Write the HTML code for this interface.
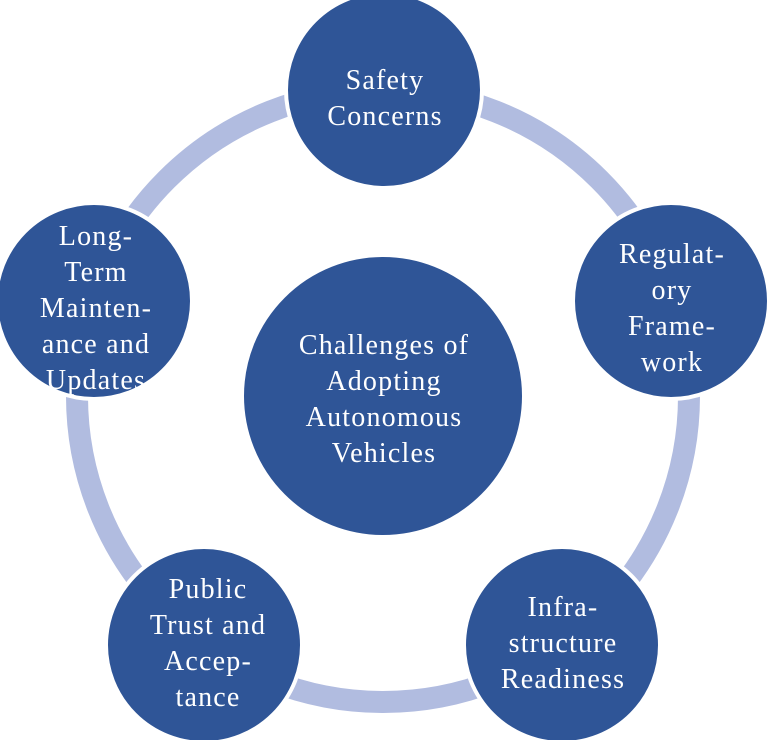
<!DOCTYPE html>
<html><head><style>html,body{margin:0;padding:0;background:#fff;}svg{display:block}</style></head>
<body>
<svg width="768" height="740" viewBox="0 0 768 740" xmlns="http://www.w3.org/2000/svg">
<circle cx="383" cy="396" r="306" fill="none" stroke="#b1bce0" stroke-width="22"/>
<g fill="#2f5597" stroke="#fff" stroke-width="4">
<circle cx="383" cy="396" r="141"/>
<circle cx="384" cy="90" r="98"/>
<circle cx="671" cy="301" r="98"/>
<circle cx="562" cy="645" r="98"/>
<circle cx="204" cy="645" r="98"/>
<circle cx="94" cy="301" r="98"/>
</g>
<g fill="#fff" font-family="'Liberation Serif',serif" font-size="28" letter-spacing="1.2" text-anchor="middle">
<text x="384" y="354">Challenges of</text>
<text x="384" y="390">Adopting</text>
<text x="384" y="426">Autonomous</text>
<text x="384" y="462">Vehicles</text>
<text x="385" y="89">Safety</text>
<text x="385" y="125">Concerns</text>
<text x="672" y="263">Regulat-</text>
<text x="672" y="299">ory</text>
<text x="672" y="335">Frame-</text>
<text x="672" y="371">work</text>
<text x="563" y="616">Infra-</text>
<text x="563" y="652">structure</text>
<text x="563" y="688">Readiness</text>
<text x="208" y="598">Public</text>
<text x="208" y="634">Trust and</text>
<text x="208" y="670">Accep-</text>
<text x="208" y="706">tance</text>
<text x="96" y="245">Long-</text>
<text x="96" y="281">Term</text>
<text x="96" y="317">Mainten-</text>
<text x="96" y="353">ance and</text>
<text x="96" y="389">Updates</text>
</g>
</svg>
</body></html>
